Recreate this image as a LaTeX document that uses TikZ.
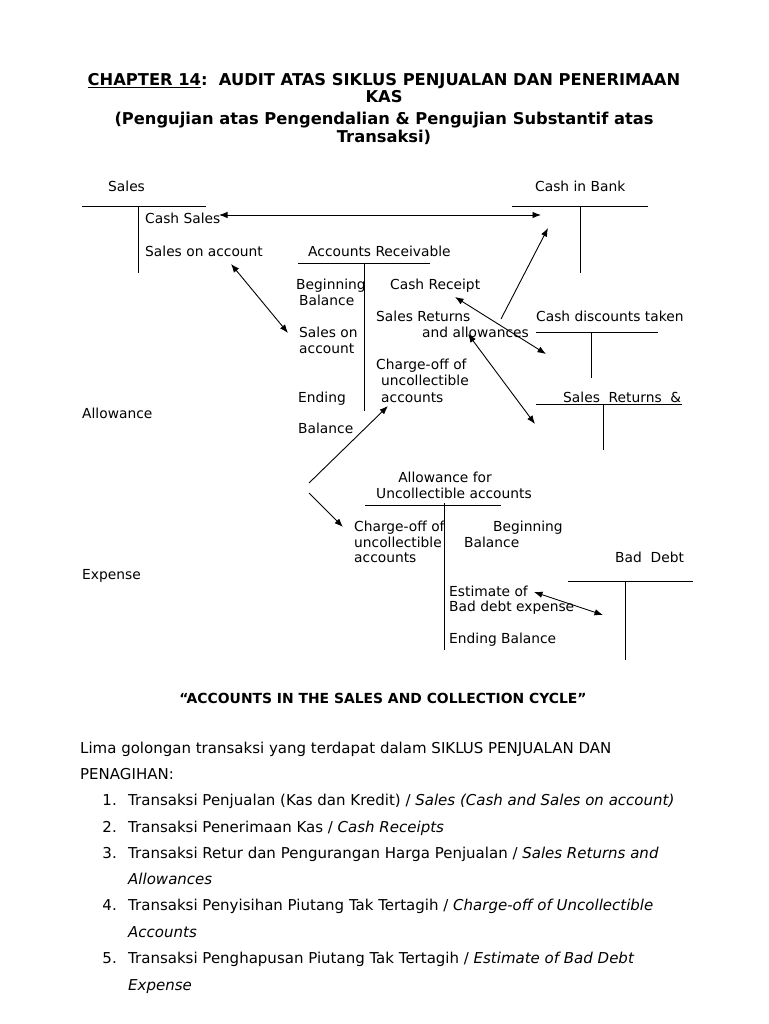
\documentclass[tikz,border=0pt]{standalone}
\usepackage{fontspec}
\setmainfont{DejaVu Sans}
\usetikzlibrary{positioning,arrows.meta}

\begin{document}
\begin{tikzpicture}[x=1pt,y=-1pt,>={Latex[length=8.5pt,width=6.5pt]},
  lbl/.style={inner sep=0pt,anchor=base west,font=\fontsize{13.8}{16}\selectfont},
  ttl/.style={inner sep=0pt,anchor=base,font=\fontsize{16.3}{19}\selectfont\bfseries},
  itm/.style={inner sep=0pt,anchor=base west,font=\fontsize{15}{18}\selectfont},
  tline/.style={line width=0.9pt},
  link/.style={line width=0.9pt}]
\useasboundingbox (0,0) rectangle (768,1024);
% ---- title ----
\node[ttl] (ttlA) at (384,86) {\underline{CHAPTER 14}:\ \ AUDIT ATAS SIKLUS PENJUALAN DAN PENERIMAAN};
\node[ttl] (ttlB) at (384,103) {KAS};
\node[ttl] (ttlC) at (384,125) {(Pengujian atas Pengendalian \& Pengujian Substantif atas};
\node[ttl] (ttlD) at (384,143) {Transaksi)};
% ---- Sales / Cash in Bank ----
\node[lbl] (salesTtl) at (108,192) {Sales};
\draw[tline] (82,206) -- (206,206) (138,206) -- (138,273);
\node[lbl] (cashSales) at (145,224) {Cash Sales};
\node[lbl] (salesAcct) at (145,256) {Sales on account};
\node[lbl] (bankTtl) at (535,192) {Cash in Bank};
\draw[tline] (512,206) -- (648,206) (580,206) -- (580,273);
% ---- Accounts Receivable ----
\node[lbl] (arTtl) at (308,256) {Accounts Receivable};
\draw[tline] (298,263) -- (430,263) (364,263) -- (364,411);
\node[lbl] (arBegA) at (296,289) {Beginning};
\node[lbl] (arBegB) at (299,305) {Balance};
\node[lbl] (arSalA) at (299,337) {Sales on};
\node[lbl] (arSalB) at (299,353) {account};
\node[lbl] (arEndA) at (298,402) {Ending};
\node[lbl] (arEndB) at (298,433) {Balance};
\node[lbl] (cashRcpt) at (390,289) {Cash Receipt};
\node[lbl] (retA) at (376,321) {Sales Returns};
\node[lbl] (retB) at (422,337) {and allowances};
\node[lbl] (chgA) at (376,369) {Charge-off of};
\node[lbl] (chgB) at (381,385) {uncollectible};
\node[lbl] (chgC) at (381,402) {accounts};
% ---- cash discounts / sales returns ----
\node[lbl] (discTtl) at (536,321) {Cash discounts taken};
\draw[tline] (536,332) -- (658,332) (591,332) -- (591,378);
\node[lbl] (srTtl) at (563,402) {Sales\ \ Returns\ \ \&};
\draw[tline] (536,404) -- (682,404) (603,404) -- (603,450);
\node[lbl] (allowTtl) at (82,418) {Allowance};
% ---- allowance for uncollectible accounts ----
\node[lbl,anchor=base] (afuA) at (445,482) {Allowance for};
\node[lbl] (afuB) at (376,498) {Uncollectible accounts};
\draw[tline] (365,505) -- (501,505) (444,503) -- (444,650);
\node[lbl] (afuChgA) at (354,531) {Charge-off of};
\node[lbl] (afuChgB) at (354,547) {uncollectible};
\node[lbl] (afuChgC) at (354,562) {accounts};
\node[lbl] (afuBegA) at (493,531) {Beginning};
\node[lbl] (afuBegB) at (464,547) {Balance};
\node[lbl] (estA) at (449,596) {Estimate of};
\node[lbl] (estB) at (449,611) {Bad debt expense};
\node[lbl] (afuEnd) at (449,643) {Ending Balance};
% ---- bad debt expense ----
\node[lbl] (bdTtl) at (615,562) {Bad\ \ Debt};
\draw[tline] (568,581) -- (693,581) (625,581) -- (625,660);
\node[lbl] (expTtl) at (82,579) {Expense};
% ---- arrow ends ----
\coordinate (csR) at (219,215);
\coordinate (bankL) at (541,215);
\coordinate (bankLo) at (548,228);
\coordinate (retUp) at (501,319);
\coordinate (soaLo) at (231,264);
\coordinate (arSalIn) at (288,333);
\coordinate (crLo) at (455,297);
\coordinate (discIn) at (546,354);
\coordinate (allwLo) at (468,334);
\coordinate (srIn) at (535,424);
\coordinate (forkA) at (309,483);
\coordinate (forkB) at (309,493);
\coordinate (chgIn) at (388,406);
\coordinate (afuIn) at (343,527);
\coordinate (estR) at (534,592);
\coordinate (bdIn) at (603,615);
% ---- arrows ----
\draw[link,<->] (csR) -- (bankL);
\draw[link,->] (retUp) -- (bankLo);
\draw[link,<->] (soaLo) -- (arSalIn);
\draw[link,<->] (crLo) -- (discIn);
\draw[link,<->] (allwLo) -- (srIn);
\draw[link,->] (forkA) -- (chgIn);
\draw[link,->] (forkB) -- (afuIn);
\draw[link,<->] (estR) -- (bdIn);
% ---- list ----
\node[inner sep=0pt,anchor=base,font=\fontsize{13.9}{17}\selectfont\bfseries] (cycleTtl) at (383,703) {“ACCOUNTS IN THE SALES AND COLLECTION CYCLE”};
\node[itm] (introA) at (80,753) {Lima golongan transaksi yang terdapat dalam SIKLUS PENJUALAN DAN};
\node[itm] (introB) at (80,779) {PENAGIHAN:};
\foreach \n/\yy in {1/805,2/832,3/858,4/910,5/963} {\node[itm,anchor=base east] (num\n) at (117,\yy) {\n.};}
\node[itm] (itemA) at (128,805) {Transaksi Penjualan (Kas dan Kredit) / \textit{Sales (Cash and Sales on account)}};
\node[itm] (itemB) at (128,832) {Transaksi Penerimaan Kas / \textit{Cash Receipts}};
\node[itm] (itemC) at (128,858) {Transaksi Retur dan Pengurangan Harga Penjualan / \textit{Sales Returns and}};
\node[itm] (itemCb) at (128,884) {\textit{Allowances}};
\node[itm] (itemD) at (128,910) {Transaksi Penyisihan Piutang Tak Tertagih / \textit{Charge-off of Uncollectible}};
\node[itm] (itemDb) at (128,937) {\textit{Accounts}};
\node[itm] (itemE) at (128,963) {Transaksi Penghapusan Piutang Tak Tertagih / \textit{Estimate of Bad Debt}};
\node[itm] (itemEb) at (128,990) {\textit{Expense}};
\end{tikzpicture}
\end{document}
